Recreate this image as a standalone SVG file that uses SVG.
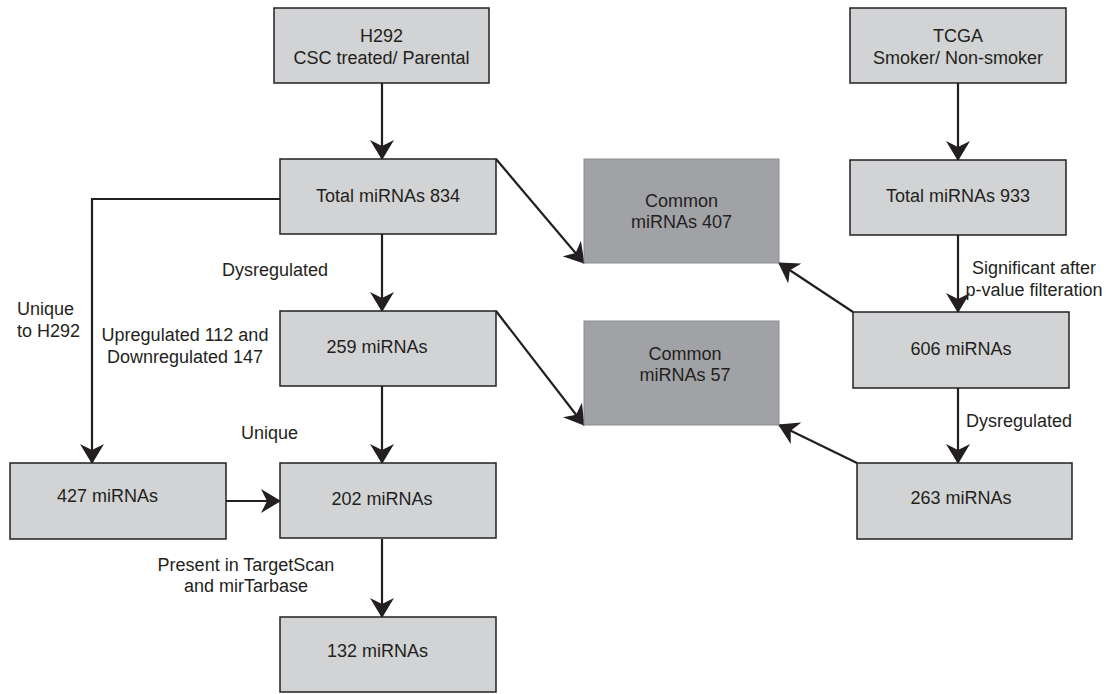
<svg xmlns="http://www.w3.org/2000/svg" width="1112" height="694" viewBox="0 0 1112 694">
<style>
.box{fill:#d1d3d4;stroke:#231f20;stroke-width:1.5}
.common{fill:#a1a2a5;stroke:#8c8d90;stroke-width:1}
text{font-family:"Liberation Sans",Arial,sans-serif;font-size:18px;fill:#231f20}
.c{text-anchor:middle}
.edge{fill:none;stroke:#231f20;stroke-width:2.2}
</style>
<defs>
<marker id="ah" markerUnits="userSpaceOnUse" markerWidth="20" markerHeight="24" refX="19" refY="12" orient="auto" viewBox="0 0 20 24">
<path d="M20,12 L0,0 L6,12 L0,24 Z" fill="#231f20"/>
</marker>
</defs>
<rect width="1112" height="694" fill="#ffffff"/>
<g id="connectors">
<line class="edge" x1="382" y1="83" x2="382" y2="159" marker-end="url(#ah)"/>
<line class="edge" x1="382" y1="234" x2="382" y2="311" marker-end="url(#ah)"/>
<line class="edge" x1="382" y1="386" x2="382" y2="463" marker-end="url(#ah)"/>
<line class="edge" x1="382" y1="539" x2="382" y2="617" marker-end="url(#ah)"/>
<line class="edge" x1="958" y1="83" x2="958" y2="160" marker-end="url(#ah)"/>
<line class="edge" x1="958" y1="235" x2="958" y2="312" marker-end="url(#ah)"/>
<line class="edge" x1="958" y1="388" x2="958" y2="463" marker-end="url(#ah)"/>
<polyline class="edge" points="280,199 92,199 92,463" marker-end="url(#ah)"/>
<line class="edge" x1="226" y1="501" x2="280" y2="501" marker-end="url(#ah)"/>
<line class="edge" x1="496" y1="159" x2="584" y2="263" marker-end="url(#ah)"/>
<line class="edge" x1="853" y1="312" x2="779" y2="263" marker-end="url(#ah)"/>
<line class="edge" x1="496" y1="311" x2="584" y2="425" marker-end="url(#ah)"/>
<line class="edge" x1="857" y1="463" x2="779" y2="425" marker-end="url(#ah)"/>
</g>
<g id="h292">
<rect class="box" x="274" y="8" width="215" height="75"/>
<text class="c" x="381.5" y="42">H292</text>
<text class="c" x="381.5" y="64">CSC treated/ Parental</text>
</g>
<g id="tcga">
<rect class="box" x="850" y="8" width="216" height="75"/>
<text class="c" x="958" y="42">TCGA</text>
<text class="c" x="958" y="64">Smoker/ Non-smoker</text>
</g>
<g id="total834">
<rect class="box" x="280" y="159" width="216" height="75"/>
<text class="c" x="388" y="202">Total miRNAs 834</text>
</g>
<g id="total933">
<rect class="box" x="850" y="160" width="216" height="75"/>
<text class="c" x="958" y="202">Total miRNAs 933</text>
</g>
<g id="common407">
<rect class="common" x="584" y="159" width="195" height="104"/>
<text class="c" x="681.5" y="207">Common</text>
<text class="c" x="681.5" y="228">miRNAs 407</text>
</g>
<g id="common57">
<rect class="common" x="584" y="321" width="195" height="104"/>
<text class="c" x="685" y="360">Common</text>
<text class="c" x="685" y="381">miRNAs 57</text>
</g>
<g id="m259">
<rect class="box" x="280" y="311" width="216" height="75"/>
<text class="c" x="377" y="353">259 miRNAs</text>
</g>
<g id="m606">
<rect class="box" x="853" y="312" width="216" height="76"/>
<text class="c" x="961" y="355">606 miRNAs</text>
</g>
<g id="m263">
<rect class="box" x="857" y="463" width="215" height="76"/>
<text class="c" x="961" y="504">263 miRNAs</text>
</g>
<g id="m427">
<rect class="box" x="10" y="463" width="216" height="76"/>
<text x="57" y="502">427 miRNAs</text>
</g>
<g id="m202">
<rect class="box" x="280" y="463" width="216" height="75"/>
<text class="c" x="382" y="505">202 miRNAs</text>
</g>
<g id="m132">
<rect class="box" x="280" y="617" width="216" height="75"/>
<text class="c" x="377.5" y="657">132 miRNAs</text>
</g>
<g id="labels">
<text x="222" y="276">Dysregulated</text>
<text x="17" y="315">Unique</text>
<text x="17" y="337">to H292</text>
<text class="c" x="185" y="341">Upregulated 112 and</text>
<text class="c" x="185" y="363">Downregulated 147</text>
<text x="241" y="439">Unique</text>
<text class="c" x="246" y="571">Present in TargetScan</text>
<text class="c" x="246" y="592">and mirTarbase</text>
<text class="c" x="1034" y="274">Significant after</text>
<text class="c" x="1034" y="296">p-value filteration</text>
<text x="966" y="427">Dysregulated</text>
</g>
</svg>
